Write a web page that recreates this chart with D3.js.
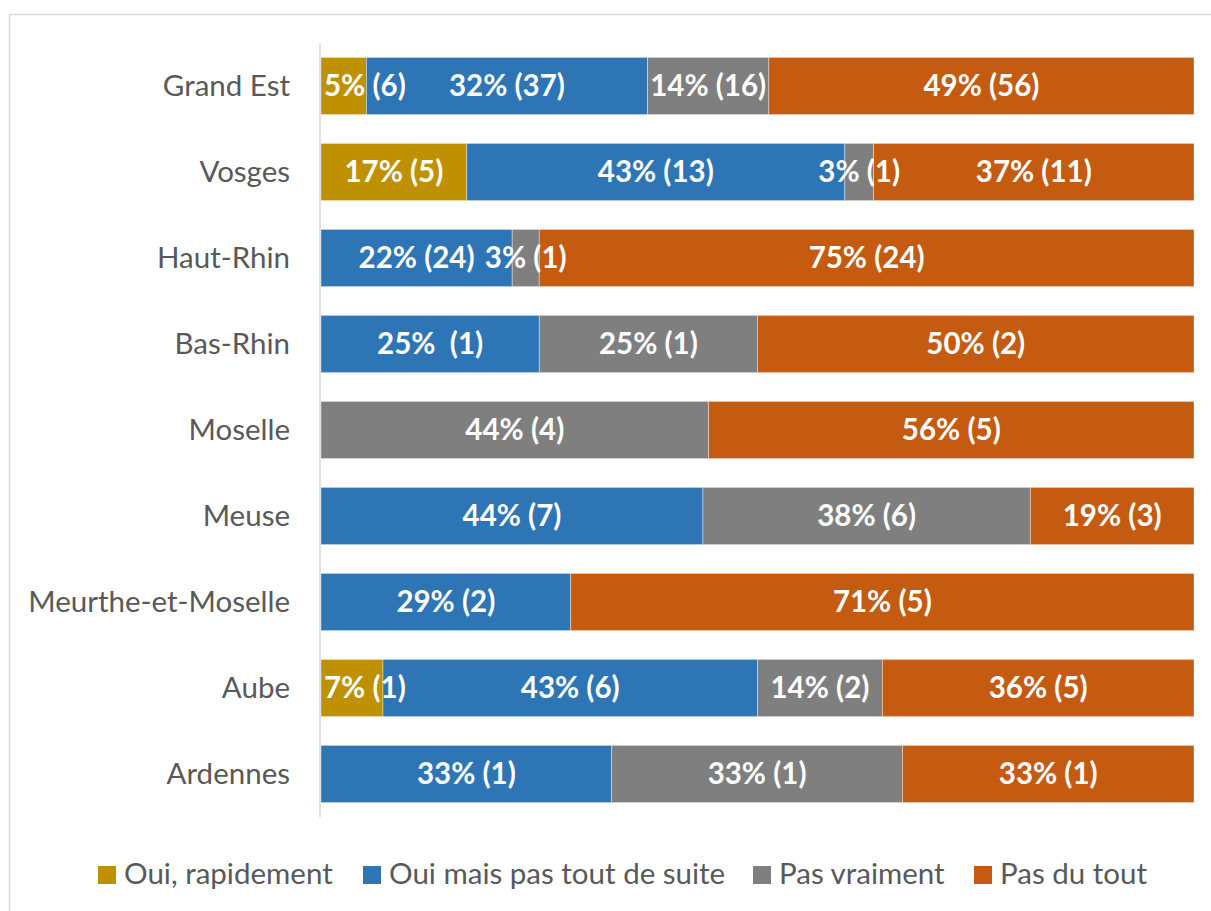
<!DOCTYPE html>
<html><head><meta charset="utf-8">
<script src="https://cdn.jsdelivr.net/npm/d3@7"></script>
<style>
html,body{margin:0;padding:0;background:#fff;}
svg{display:block;}
text{font-family:Lato, "Open Sans", sans-serif;}
</style></head>
<body>
<svg id="chart" width="1211" height="911"></svg>
<script>
const categories = ["Grand Est","Vosges","Haut-Rhin","Bas-Rhin","Moselle","Meuse","Meurthe-et-Moselle","Aube","Ardennes"];
const seriesNames = ["Oui, rapidement","Oui mais pas tout de suite","Pas vraiment","Pas du tout"];
const seriesColors = ["#BF9000","#2E75B6","#7F7F7F","#C55A11"];
// percentage shares per series
const ouiRapidement = [5.2,16.7,0,0,0,0,0,7.1,0];
const ouiPasTout    = [32.2,43.3,21.9,25,0,43.75,28.6,42.9,33.3];
const pasVraiment   = [13.9,3.3,3.1,25,44.4,37.5,0,14.3,33.3];
const pasDuTout     = [48.7,36.7,75.0,50,55.6,18.75,71.4,35.7,33.4];
// data label texts as shown
const lblOuiRapidement = ["5% (6)","17% (5)","","","","","","7% (1)",""];
const lblOuiPasTout    = ["32% (37)","43% (13)","22% (24)","25%  (1)","","44% (7)","29% (2)","43% (6)","33% (1)"];
const lblPasVraiment   = ["14% (16)","3% (1)","3% (1)","25% (1)","44% (4)","38% (6)","","14% (2)","33% (1)"];
const lblPasDuTout     = ["49% (56)","37% (11)","75% (24)","50% (2)","56% (5)","19% (3)","71% (5)","36% (5)","33% (1)"];

const valueArrays = [ouiRapidement, ouiPasTout, pasVraiment, pasDuTout];
const labelArrays = [lblOuiRapidement, lblOuiPasTout, lblPasVraiment, lblPasDuTout];

const rows = categories.map((c,i)=>{
  const o = {cat:c};
  seriesNames.forEach((s,k)=>{ o[s] = valueArrays[k][i]; });
  return o;
});

const FS = 29.5;
const svg = d3.select("#chart");
// outer chart border
svg.append("rect").attr("x",9.5).attr("y",14.5).attr("width",1220).attr("height",920)
  .attr("fill","none").attr("stroke","#D9D9D9").attr("stroke-width",1.5);

const x = d3.scaleLinear().domain([0,100]).range([321,1194]);
const y = d3.scaleBand().domain(categories).range([43,817]).paddingInner(0.335).paddingOuter(0.1675);

const stack = d3.stack().keys(seriesNames)(rows);

const g = svg.append("g");
stack.forEach((layer,k)=>{
  g.selectAll(null).data(layer).enter().append("rect")
    .attr("x",d=>x(d[0])).attr("y",d=>y(d.data.cat))
    .attr("width",d=>x(d[1])-x(d[0])).attr("height",y.bandwidth())
    .attr("fill",seriesColors[k])
    .attr("stroke","#ffffff").attr("stroke-opacity",0.5).attr("stroke-width",0.75)
    .style("display",d=>d[1]-d[0]>0?null:"none");
});

// axis line
svg.append("line").attr("x1",320).attr("x2",320).attr("y1",43).attr("y2",817)
  .attr("stroke","#D9D9D9").attr("stroke-width",1.5);

// category axis labels
const yAxis = d3.axisLeft(y).tickSize(0).tickPadding(0);
const ya = svg.append("g").attr("transform","translate(290,0)").call(yAxis);
ya.select(".domain").remove();
ya.selectAll("text").attr("fill","#595959").attr("font-size",FS).attr("dy","0.34em")
  .style("font-family","Lato, 'Open Sans', sans-serif");

// data labels
stack.forEach((layer,k)=>{
  layer.forEach((d,i)=>{
    const txt = labelArrays[k][i];
    if(!txt) return;
    const cx = (x(d[0])+x(d[1]))/2;
    const t = svg.append("text").attr("x",cx).attr("y",y(d.data.cat)+y.bandwidth()/2)
      .attr("text-anchor","middle").attr("dy","0.35em")
      .attr("fill","#fff").attr("font-weight","bold").attr("font-size",FS)
      .style("white-space","pre").attr("xml:space","preserve")
      .text(txt);
    const w = t.node().getComputedTextLength();
    if(cx - w/2 < x(0)+3) t.attr("x", x(0)+3+w/2);
  });
});

// legend
const legendX = [98,363,753,974];
seriesNames.forEach((s,k)=>{
  svg.append("rect").attr("x",legendX[k]).attr("y",866).attr("width",18).attr("height",18).attr("fill",seriesColors[k]);
  svg.append("text").attr("x",legendX[k]+26).attr("y",884)
    .attr("fill","#595959").attr("font-size",FS).text(s);
});
</script>
</body></html>
